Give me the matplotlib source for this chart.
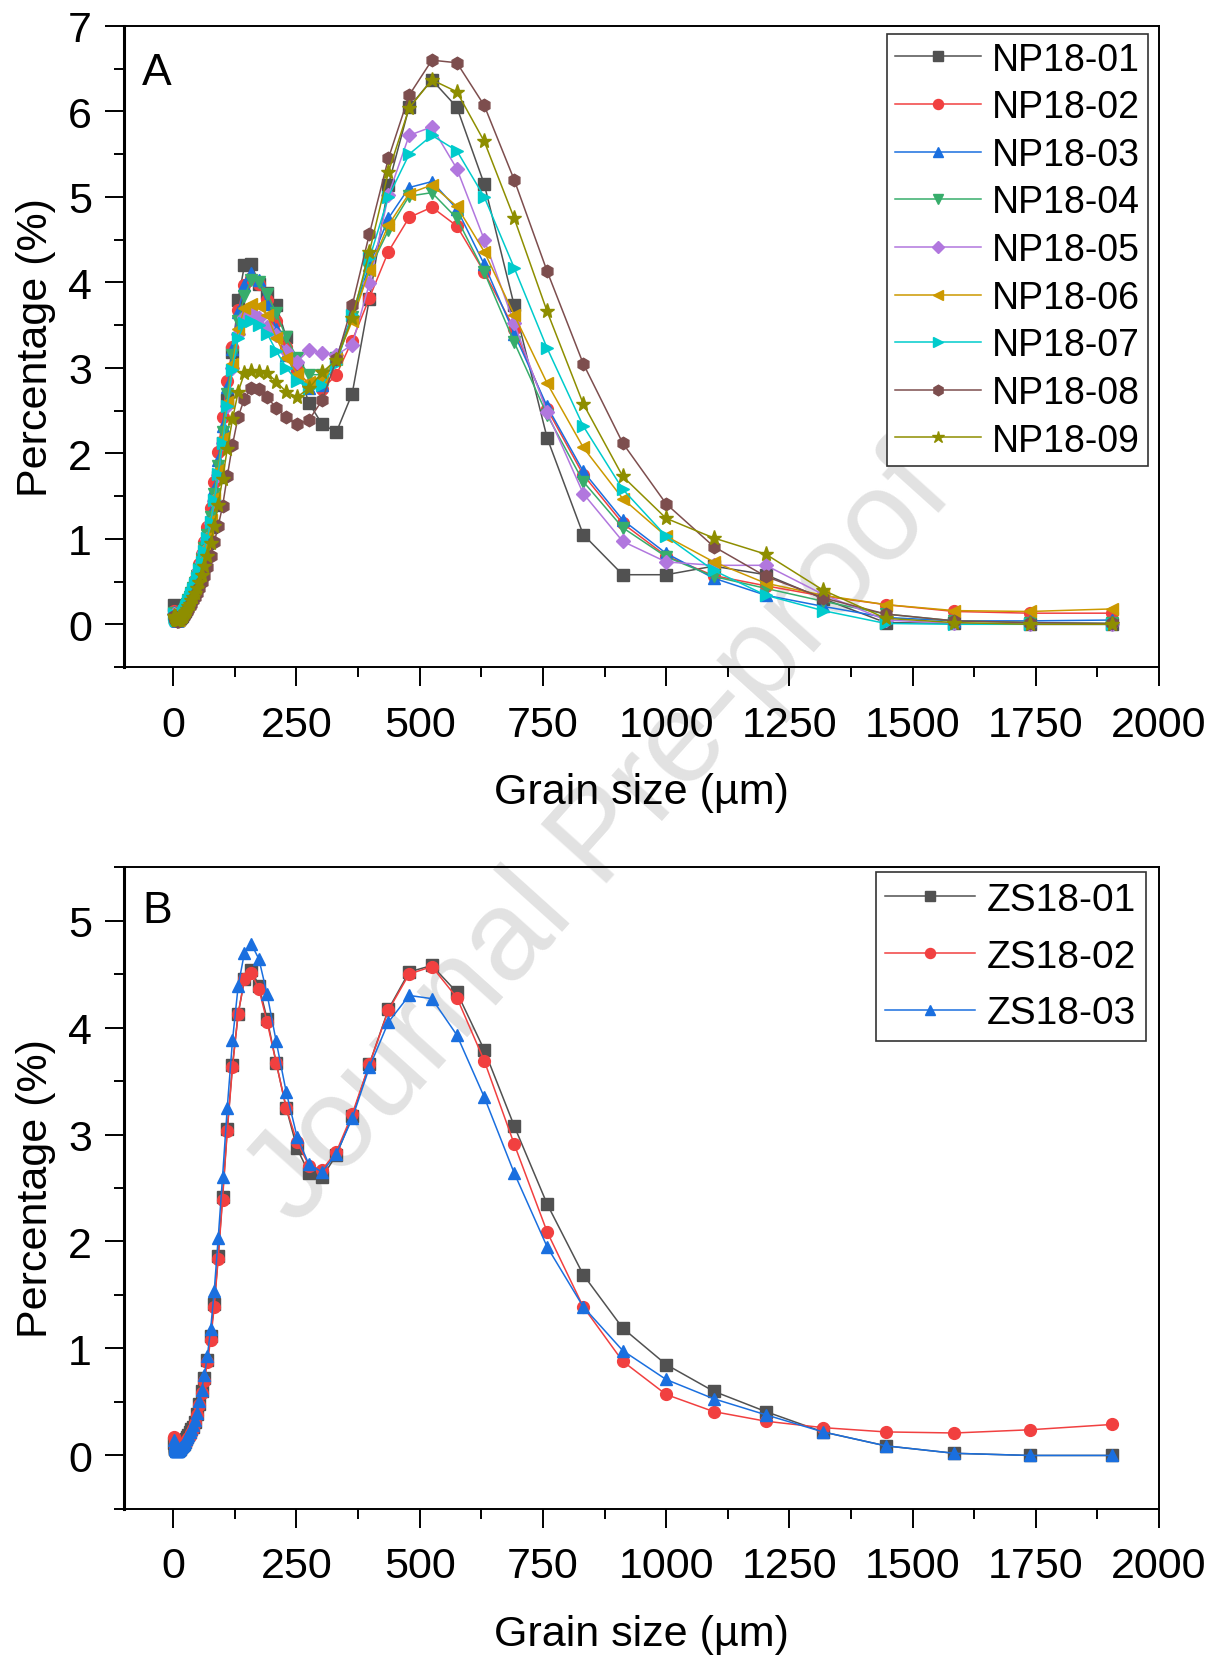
import matplotlib
matplotlib.use("Agg")
import matplotlib.pyplot as plt
from matplotlib.ticker import MultipleLocator

plt.rcParams['font.family'] = ['Liberation Sans', 'DejaVu Sans']

# Grain size classes (um)
grain_size = [2.51, 2.75, 3.02, 3.31, 3.63, 3.98, 4.37, 4.79, 5.25, 5.75, 6.31, 6.92, 7.59, 8.32, 9.12,
              10.0, 10.96, 12.02, 13.18, 14.45, 15.85, 17.38, 19.05, 20.89, 22.91, 25.12, 27.54, 30.2, 33.11, 36.31, 39.81,
              43.65, 47.86, 52.48, 57.54, 63.1, 69.18, 75.86, 83.18, 91.2, 100.0,
              109.6, 120.2, 131.8, 144.5, 158.5, 173.8, 190.5, 208.9, 229.1, 251.2,
              275.4, 302.0, 331.1, 363.1, 398.1, 436.5, 478.6, 524.8, 575.4, 631.0,
              691.8, 758.6, 831.8, 912.0, 1000.0, 1096.5, 1202.3, 1318.3, 1445.4, 1584.9, 1737.8, 1905.5]

# Panel A - NP18 samples (%)
np18_01 = [0.22, 0.18, 0.15, 0.13, 0.11, 0.10, 0.09, 0.08, 0.07, 0.06, 0.06, 0.05, 0.05, 0.05, 0.05,
           0.05, 0.06, 0.06, 0.07, 0.08, 0.09, 0.10, 0.12, 0.14, 0.16, 0.18, 0.21, 0.24, 0.28, 0.32, 0.37,
           0.43, 0.50, 0.58, 0.68, 0.80, 0.95, 1.14, 1.40, 1.72, 2.12,
           2.62, 3.18, 3.80, 4.20, 4.22, 3.98, 3.88, 3.74, 3.36, 3.00,
           2.59, 2.34, 2.25, 2.70, 3.81, 5.14, 6.05, 6.37, 6.05, 5.15,
           3.73, 2.18, 1.05, 0.58, 0.58, 0.68, 0.58, 0.30, 0.02, 0.01, 0.00, 0.00]
np18_02 = [0.16, 0.14, 0.12, 0.11, 0.10, 0.09, 0.08, 0.07, 0.07, 0.06, 0.06, 0.06, 0.06, 0.06, 0.06,
           0.07, 0.07, 0.08, 0.09, 0.10, 0.11, 0.13, 0.15, 0.17, 0.20, 0.23, 0.26, 0.30, 0.34, 0.39, 0.45,
           0.52, 0.60, 0.70, 0.82, 0.96, 1.14, 1.36, 1.66, 2.02, 2.43,
           2.85, 3.25, 3.68, 3.97, 4.05, 3.98, 3.80, 3.55, 3.25, 2.98,
           2.80, 2.75, 2.92, 3.32, 3.82, 4.36, 4.76, 4.88, 4.66, 4.12,
           3.46, 2.52, 1.75, 1.18, 0.80, 0.57, 0.45, 0.33, 0.23, 0.15, 0.13, 0.13]
np18_03 = [0.14, 0.12, 0.11, 0.10, 0.09, 0.08, 0.07, 0.07, 0.06, 0.06, 0.05, 0.05, 0.05, 0.05, 0.05,
           0.05, 0.06, 0.07, 0.08, 0.09, 0.10, 0.12, 0.14, 0.16, 0.19, 0.22, 0.25, 0.29, 0.33, 0.38, 0.44,
           0.50, 0.58, 0.67, 0.78, 0.92, 1.09, 1.30, 1.58, 1.92, 2.32,
           2.78, 3.22, 3.65, 3.97, 4.11, 4.03, 3.75, 3.46, 3.15, 2.90,
           2.76, 2.80, 3.13, 3.62, 4.20, 4.75, 5.11, 5.18, 4.86, 4.21,
           3.40, 2.55, 1.79, 1.22, 0.83, 0.54, 0.34, 0.21, 0.08, 0.04, 0.04, 0.05]
np18_04 = [0.13, 0.12, 0.11, 0.10, 0.09, 0.08, 0.07, 0.06, 0.06, 0.05, 0.05, 0.05, 0.05, 0.05, 0.05,
           0.05, 0.06, 0.06, 0.07, 0.08, 0.10, 0.11, 0.13, 0.15, 0.18, 0.21, 0.24, 0.28, 0.32, 0.37, 0.42,
           0.48, 0.56, 0.65, 0.76, 0.89, 1.05, 1.25, 1.52, 1.85, 2.25,
           2.70, 3.15, 3.55, 3.84, 4.03, 4.01, 3.87, 3.64, 3.36, 3.12,
           2.92, 2.92, 3.11, 3.60, 4.15, 4.61, 5.01, 5.05, 4.75, 4.12,
           3.30, 2.45, 1.67, 1.13, 0.79, 0.56, 0.42, 0.27, 0.12, 0.04, 0.02, 0.01]
np18_05 = [0.12, 0.11, 0.10, 0.09, 0.08, 0.07, 0.07, 0.06, 0.06, 0.05, 0.05, 0.05, 0.05, 0.05, 0.05,
           0.05, 0.06, 0.06, 0.07, 0.08, 0.09, 0.11, 0.13, 0.15, 0.17, 0.20, 0.23, 0.27, 0.31, 0.36, 0.41,
           0.47, 0.54, 0.63, 0.73, 0.85, 1.00, 1.19, 1.44, 1.75, 2.12,
           2.55, 3.00, 3.40, 3.60, 3.65, 3.58, 3.48, 3.38, 3.20, 3.07,
           3.21, 3.17, 3.15, 3.27, 3.99, 5.02, 5.72, 5.82, 5.33, 4.50,
           3.52, 2.48, 1.53, 0.97, 0.73, 0.69, 0.69, 0.35, 0.05, 0.01, 0.00, 0.00]
np18_06 = [0.12, 0.11, 0.10, 0.09, 0.08, 0.08, 0.07, 0.07, 0.06, 0.06, 0.06, 0.05, 0.05, 0.05, 0.05,
           0.05, 0.06, 0.07, 0.08, 0.09, 0.10, 0.12, 0.14, 0.16, 0.18, 0.21, 0.24, 0.28, 0.32, 0.37, 0.42,
           0.48, 0.55, 0.64, 0.75, 0.88, 1.03, 1.22, 1.48, 1.80, 2.18,
           2.60, 3.05, 3.45, 3.70, 3.75, 3.72, 3.62, 3.35, 3.12, 2.93,
           2.83, 2.88, 3.10, 3.55, 4.15, 4.67, 5.04, 5.14, 4.89, 4.36,
           3.62, 2.82, 2.07, 1.47, 1.03, 0.73, 0.48, 0.34, 0.23, 0.16, 0.15, 0.18]
np18_07 = [0.12, 0.11, 0.10, 0.09, 0.08, 0.07, 0.07, 0.06, 0.06, 0.05, 0.05, 0.05, 0.05, 0.05, 0.05,
           0.05, 0.06, 0.06, 0.07, 0.08, 0.09, 0.11, 0.13, 0.15, 0.17, 0.20, 0.23, 0.27, 0.31, 0.36, 0.41,
           0.47, 0.54, 0.63, 0.73, 0.86, 1.01, 1.20, 1.45, 1.76, 2.12,
           2.55, 2.98, 3.35, 3.52, 3.55, 3.50, 3.40, 3.20, 3.00, 2.85,
           2.76, 2.80, 3.05, 3.62, 4.28, 5.00, 5.50, 5.72, 5.54, 5.00,
           4.17, 3.23, 2.32, 1.58, 1.03, 0.63, 0.34, 0.16, 0.01, 0.00, 0.00, 0.00]
np18_08 = [0.10, 0.09, 0.08, 0.08, 0.07, 0.07, 0.06, 0.06, 0.05, 0.05, 0.05, 0.04, 0.04, 0.04, 0.04,
           0.04, 0.04, 0.05, 0.05, 0.06, 0.07, 0.08, 0.09, 0.10, 0.12, 0.14, 0.16, 0.18, 0.21, 0.24, 0.28,
           0.32, 0.37, 0.42, 0.49, 0.57, 0.67, 0.80, 0.96, 1.15, 1.38,
           1.73, 2.10, 2.43, 2.64, 2.76, 2.75, 2.66, 2.53, 2.42, 2.34,
           2.39, 2.62, 3.10, 3.73, 4.57, 5.45, 6.19, 6.60, 6.57, 6.07,
           5.20, 4.13, 3.05, 2.12, 1.41, 0.91, 0.56, 0.31, 0.12, 0.04, 0.02, 0.01]
np18_09 = [0.10, 0.09, 0.08, 0.08, 0.07, 0.07, 0.06, 0.06, 0.05, 0.05, 0.05, 0.05, 0.05, 0.05, 0.05,
           0.05, 0.05, 0.06, 0.06, 0.07, 0.08, 0.09, 0.10, 0.12, 0.14, 0.16, 0.18, 0.21, 0.24, 0.28, 0.32,
           0.37, 0.43, 0.50, 0.58, 0.68, 0.80, 0.95, 1.15, 1.40, 1.70,
           2.05, 2.40, 2.72, 2.94, 2.96, 2.95, 2.94, 2.84, 2.72, 2.66,
           2.76, 2.95, 3.09, 3.58, 4.36, 5.29, 6.04, 6.37, 6.23, 5.65,
           4.75, 3.66, 2.58, 1.73, 1.24, 1.01, 0.82, 0.40, 0.07, 0.02, 0.00, 0.00]

# Panel B - ZS18 samples (%)
zs18_01 = [0.12, 0.10, 0.09, 0.08, 0.07, 0.06, 0.06, 0.05, 0.05, 0.05, 0.05, 0.05, 0.05, 0.05, 0.05,
           0.05, 0.05, 0.06, 0.06, 0.07, 0.08, 0.09, 0.10, 0.11, 0.13, 0.15, 0.17, 0.19, 0.22, 0.25, 0.27,
           0.31, 0.39, 0.48, 0.60, 0.72, 0.89, 1.12, 1.42, 1.86, 2.42,
           3.05, 3.65, 4.13, 4.45, 4.54, 4.39, 4.08, 3.67, 3.25, 2.87,
           2.64, 2.60, 2.81, 3.17, 3.66, 4.17, 4.52, 4.58, 4.33, 3.79,
           3.08, 2.35, 1.69, 1.19, 0.85, 0.60, 0.41, 0.22, 0.09, 0.02, 0.00, 0.00]
zs18_02 = [0.17, 0.15, 0.13, 0.11, 0.10, 0.09, 0.08, 0.07, 0.07, 0.06, 0.06, 0.06, 0.06, 0.06, 0.06,
           0.05, 0.05, 0.06, 0.06, 0.07, 0.07, 0.08, 0.09, 0.10, 0.11, 0.12, 0.14, 0.16, 0.18, 0.21, 0.25,
           0.30, 0.38, 0.47, 0.58, 0.70, 0.87, 1.08, 1.39, 1.84, 2.39,
           3.03, 3.63, 4.13, 4.45, 4.51, 4.36, 4.05, 3.67, 3.25, 2.93,
           2.71, 2.67, 2.84, 3.19, 3.66, 4.16, 4.50, 4.57, 4.28, 3.69,
           2.91, 2.09, 1.39, 0.88, 0.57, 0.41, 0.32, 0.26, 0.22, 0.21, 0.24, 0.29]
zs18_03 = [0.14, 0.12, 0.10, 0.09, 0.08, 0.07, 0.06, 0.06, 0.05, 0.05, 0.04, 0.04, 0.04, 0.04, 0.04,
           0.05, 0.05, 0.06, 0.06, 0.07, 0.08, 0.09, 0.10, 0.11, 0.13, 0.15, 0.17, 0.19, 0.22, 0.25, 0.28,
           0.33, 0.40, 0.51, 0.61, 0.75, 0.93, 1.18, 1.54, 2.03, 2.60,
           3.25, 3.88, 4.39, 4.70, 4.78, 4.64, 4.31, 3.87, 3.40, 2.98,
           2.72, 2.65, 2.82, 3.15, 3.63, 4.05, 4.30, 4.27, 3.93, 3.35,
           2.64, 1.95, 1.39, 0.98, 0.71, 0.53, 0.38, 0.22, 0.09, 0.02, 0.00, 0.00]

np_labels = ['NP18-01', 'NP18-02', 'NP18-03', 'NP18-04', 'NP18-05',
             'NP18-06', 'NP18-07', 'NP18-08', 'NP18-09']
np_series = [np18_01, np18_02, np18_03, np18_04, np18_05, np18_06, np18_07, np18_08, np18_09]
zs_labels = ['ZS18-01', 'ZS18-02', 'ZS18-03']
zs_series = [zs18_01, zs18_02, zs18_03]

colors = ['#515151', '#F14040', '#1A6FDF', '#37AD6B', '#B177DE',
          '#CC9900', '#00CBCC', '#7D4E4E', '#8E8E00']
markers = ['s', 'o', '^', 'v', 'D', '<', '>', 'h', '*']
msizes = [8, 8.5, 9, 9, 7.5, 9, 9, 9, 11]


def style_axes(ax, ymax):
    ax.set_facecolor('none')
    ax.set_xlim(-100, 2000)
    ax.set_ylim(-0.5, ymax)
    ax.xaxis.set_major_locator(MultipleLocator(250))
    ax.xaxis.set_minor_locator(MultipleLocator(125))
    ax.yaxis.set_major_locator(MultipleLocator(1))
    ax.yaxis.set_minor_locator(MultipleLocator(0.5))
    ax.tick_params(which='major', direction='out', length=14, width=1.4, labelsize=31)
    ax.tick_params(which='minor', direction='out', length=7, width=1.4)
    ax.tick_params(axis='x', which='major', pad=13)
    ax.tick_params(axis='y', which='major', pad=9)
    for s in ax.spines.values():
        s.set_linewidth(1.4)
    ax.spines['left'].set_linewidth(2.2)
    ax.set_xlabel('Grain size (µm)', fontsize=31, labelpad=20)
    ax.set_ylabel('Percentage (%)', fontsize=31, labelpad=9)


fig = plt.figure(figsize=(12.2, 16.56), dpi=100)

# watermark behind the data
fig.text(0.493, 0.493, 'Journal Pre-proof', rotation=48, fontsize=92,
         color='#e2e2e2', ha='center', va='center', zorder=-1)

axA = fig.add_axes([0.1016, 0.5966, 0.8484, 0.3871])
axB = fig.add_axes([0.1016, 0.0882, 0.8484, 0.3876])

for i in range(len(np_series)):
    axA.plot(grain_size, np_series[i], color=colors[i], marker=markers[i],
             markersize=msizes[i], linewidth=1.1, label=np_labels[i])

for i in range(len(zs_series)):
    axB.plot(grain_size, zs_series[i], color=colors[i], marker=markers[i],
             markersize=msizes[i], linewidth=1.1, label=zs_labels[i])

style_axes(axA, 7)
style_axes(axB, 5.5)

axA.text(0.032, 0.927, 'A', transform=axA.transAxes, fontsize=32, ha='center', va='center')
axB.text(0.032, 0.933, 'B', transform=axB.transAxes, fontsize=32, ha='center', va='center')

legA = axA.legend(loc='upper right', bbox_to_anchor=(0.989, 0.9875), fontsize=27,
                  fancybox=False, edgecolor='#333333', framealpha=1, borderaxespad=0,
                  handlelength=2.3, handletextpad=0.3, labelspacing=0.31, borderpad=0.2,
                  markerscale=0.85)
legA.get_frame().set_linewidth(1.2)

legB = axB.legend(loc='upper right', bbox_to_anchor=(0.987, 0.992), fontsize=28,
                  fancybox=False, edgecolor='#333333', framealpha=1, borderaxespad=0,
                  handlelength=2.3, handletextpad=0.3, labelspacing=0.53, borderpad=0.25,
                  markerscale=0.85)
legB.get_frame().set_linewidth(1.2)

fig.savefig('out.png', dpi=100)
